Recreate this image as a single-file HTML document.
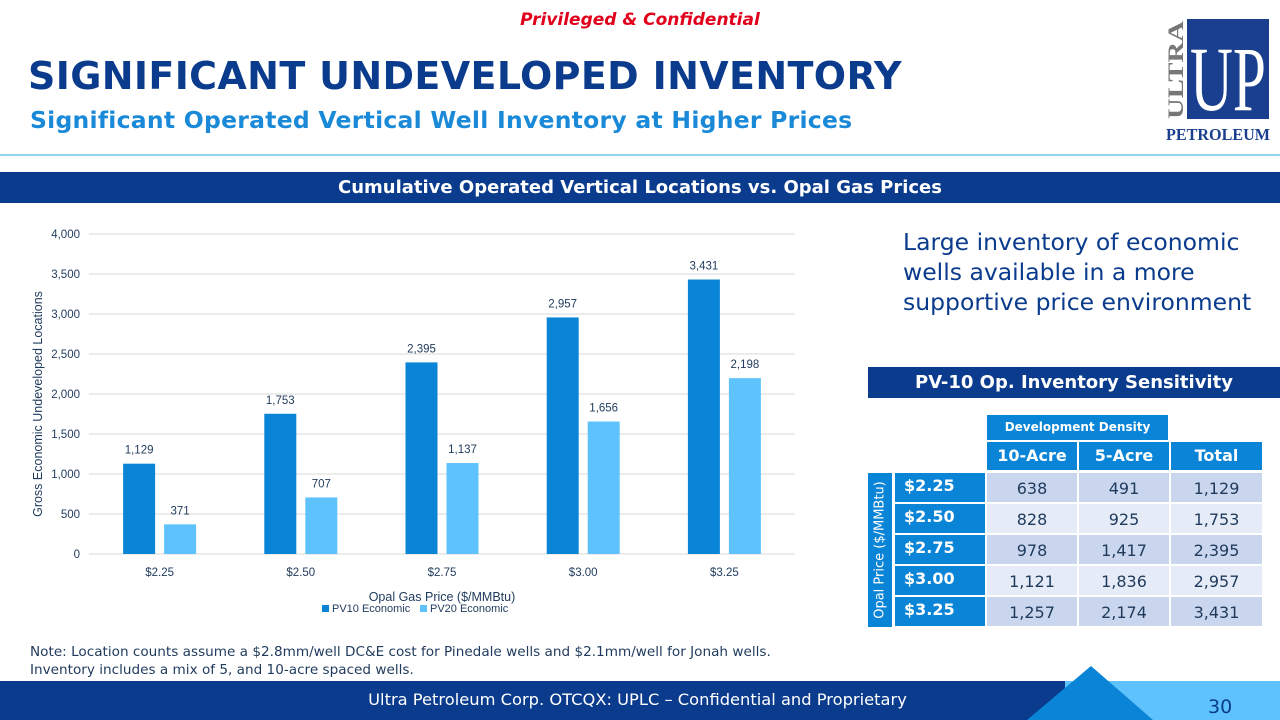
<!DOCTYPE html>
<html><head><meta charset="utf-8">
<style>
*{margin:0;padding:0;box-sizing:border-box}
body{width:1280px;height:720px;position:relative;overflow:hidden;background:#fff;font-family:"DejaVu Sans","Liberation Sans",sans-serif}
.abs{position:absolute}
</style></head><body>
<div class="abs" style="left:0;width:1280px;top:10px;text-align:center;color:#e0001b;font:italic bold 17px 'DejaVu Sans',sans-serif">Privileged &amp; Confidential</div>
<div class="abs" style="left:28px;top:54px;color:#0a3b8c;font:bold 38px 'DejaVu Sans',sans-serif;letter-spacing:0.35px">SIGNIFICANT UNDEVELOPED INVENTORY</div>
<div class="abs" style="left:30px;top:106px;color:#1a8ad8;font:bold 23.5px 'DejaVu Sans',sans-serif;letter-spacing:0.25px">Significant Operated Vertical Well Inventory at Higher Prices</div>
<div class="abs" style="left:0;top:154px;width:1280px;height:2px;background:#8fd6ec"></div>
<svg class="abs" style="left:1165px;top:15px" width="106" height="130">
<rect x="22" y="4" width="82" height="100" fill="#1a3f8f"/>
<text x="63" y="95" fill="#fff" font-family="Liberation Serif,serif" font-size="92" text-anchor="middle" textLength="76" lengthAdjust="spacingAndGlyphs">UP</text>
<text transform="translate(18,104) rotate(-90)" fill="#777" font-family="Liberation Serif,serif" font-weight="bold" font-size="22" textLength="98" lengthAdjust="spacingAndGlyphs">ULTRA</text>
<text x="53" y="125" fill="#1a3f8f" font-family="Liberation Serif,serif" font-weight="bold" font-size="17" text-anchor="middle" textLength="104" lengthAdjust="spacingAndGlyphs">PETROLEUM</text>
</svg>
<div class="abs" style="left:0;top:172px;width:1280px;height:31px;background:#0a3b8c;color:#fff;text-align:center;font:bold 18px/31px 'DejaVu Sans',sans-serif">Cumulative Operated Vertical Locations vs. Opal Gas Prices</div>

<svg class="abs" id="chart" style="left:0;top:210px" width="860" height="420"></svg>

<div class="abs" style="left:903px;top:227px;color:#0a3b8c;font:23.5px/30px 'DejaVu Sans',sans-serif;width:377px">Large inventory of economic wells available in a more supportive price environment</div>
<div class="abs" style="left:868px;top:367px;width:412px;height:31px;background:#0a3b8c;color:#fff;text-align:center;font:bold 18px/31px 'DejaVu Sans',sans-serif">PV-10 Op. Inventory Sensitivity</div>
<div class="abs" style="left:987px;top:415px;width:181px;height:25px;background:#0a84d6;color:#fff;text-align:center;font:bold 12px/25px 'DejaVu Sans',sans-serif">Development Density</div>
<div class="abs" style="left:868px;top:473px;width:24px;height:154px;background:#0a84d6"><div style="position:absolute;left:12px;top:77px;transform:translate(-50%,-50%) rotate(-90deg);white-space:nowrap;color:#fff;font:13px 'DejaVu Sans',sans-serif">Opal Price ($/MMBtu)</div></div>
<div id="tbl"></div>

<div class="abs" style="left:30px;top:643px;color:#1f3a5c;font:13.6px/18px 'DejaVu Sans',sans-serif">Note: Location counts assume a $2.8mm/well DC&amp;E cost for Pinedale wells and $2.1mm/well for Jonah wells.<br>Inventory includes a mix of 5, and 10-acre spaced wells.</div>
<svg class="abs" style="left:0;top:650px" width="1280" height="70">
<rect x="0" y="31" width="1280" height="39" fill="#0a3b8c"/>
<rect x="1065" y="31" width="215" height="39" fill="#5ec3fc"/>
<polygon points="1091,16 1153,70 1027,70" fill="#0a84d6"/>
</svg>
<div class="abs" style="left:0;width:1275px;top:682px;text-align:center;color:#fff;font:16.3px/36px 'DejaVu Sans',sans-serif">Ultra Petroleum Corp. OTCQX: UPLC – Confidential and Proprietary</div>
<div class="abs" style="left:1208px;top:696px;color:#0a3b8c;font:19px 'DejaVu Sans',sans-serif">30</div>

<script>
const categories=["$2.25","$2.50","$2.75","$3.00","$3.25"];
const pv10=[1129,1753,2395,2957,3431];
const pv20=[371,707,1137,1656,2198];
const yTicks=[0,500,1000,1500,2000,2500,3000,3500,4000];
const tenAcre=[638,828,978,1121,1257];
const fiveAcre=[491,925,1417,1836,2174];
const totals=[1129,1753,2395,2957,3431];
const NS="http://www.w3.org/2000/svg";
const svg=document.getElementById('chart');
const L=89,R=795,T=24,B=344,yMax=4000;
const y=v=>B-(v/yMax)*(B-T);
const band=(R-L)/categories.length;
const cx=i=>L+band*(i+0.5);
const fmt=v=>v.toLocaleString('en-US');
const FF='Liberation Sans,sans-serif';
function mk(tag,a,txt){const e=document.createElementNS(NS,tag);for(const k in a)e.setAttribute(k,a[k]);if(txt!=null)e.textContent=txt;svg.appendChild(e);return e;}
yTicks.forEach(t=>{
 const g=mk('line',{x1:L,x2:R,y1:y(t),y2:y(t),stroke:'#e6e6e6','stroke-width':1.5});
 
 
 const l=mk('text',{x:L-9,y:y(t)+4,'text-anchor':'end','font-size':11.5,fill:'#1f3a5c','font-family':FF},fmt(t));
 
 
});
const bw=32,gap=9;
categories.forEach((c,i)=>{
 const x1=cx(i)-gap/2-bw, x2=cx(i)+gap/2;
 const b1=mk('rect',{x:x1,y:y(pv10[i]),width:bw,height:B-y(pv10[i]),fill:'#0a84d6'});
 
 
 const b2=mk('rect',{x:x2,y:y(pv20[i]),width:bw,height:B-y(pv20[i]),fill:'#5ec3fc'});
 
 
 const v1=mk('text',{x:x1+bw/2,y:y(pv10[i])-10,'text-anchor':'middle','font-size':11.5,fill:'#1f3a5c','font-family':FF},fmt(pv10[i]));
 
 
 const v2=mk('text',{x:x2+bw/2,y:y(pv20[i])-10,'text-anchor':'middle','font-size':11.5,fill:'#1f3a5c','font-family':FF},fmt(pv20[i]));
 
 
 const xl=mk('text',{x:cx(i),y:B+22,'text-anchor':'middle','font-size':11.5,fill:'#1f3a5c','font-family':FF},c);
 
 
});
const xt=mk('text',{x:(L+R)/2,y:B+47,'text-anchor':'middle','font-size':12.5,fill:'#1f3a5c','font-family':FF},'Opal Gas Price ($/MMBtu)');


const yt=mk('text',{transform:`translate(42,${(T+B)/2+10}) rotate(-90)`,'text-anchor':'middle','font-size':12.5,fill:'#1f3a5c','font-family':FF},'Gross Economic Undeveloped Locations');


[['#0a84d6','PV10 Economic',322],['#5ec3fc','PV20 Economic',420]].forEach(([c,t,x])=>{
 const r=mk('rect',{x:x,y:B+51,width:7,height:7,fill:c});
 
 
 const tx=mk('text',{x:x+10,y:B+58,'font-size':11,fill:'#1f3a5c','font-family':FF},t);
 
 
});
const tbl=document.getElementById('tbl');
const cols=[987,1079,1171], widths=[90,90,91];
function cell(x,yy,w,h,bg,txt,style,name){const d=document.createElement('div');d.className='abs';d.style.cssText=`left:${x}px;top:${yy}px;width:${w}px;height:${h}px;background:${bg};${style}`;d.textContent=txt;tbl.appendChild(d);}
['10-Acre','5-Acre','Total'].forEach((h,j)=>cell(cols[j],442,widths[j],28,'#0a84d6',h,'color:#fff;text-align:center;font:bold 16px/28px "DejaVu Sans",sans-serif','column-header'));
categories.forEach((c,i)=>{
 const yy=473+i*31, bg=i%2==0?'#c9d6ee':'#e6ecf7';
 cell(895,yy,90,29,'#0a84d6',c,'color:#fff;padding-left:9px;font:bold 16px/26px "DejaVu Sans",sans-serif','row-header');
 [tenAcre[i],fiveAcre[i],totals[i]].forEach((v,j)=>cell(cols[j],yy,widths[j],29,bg,fmt(v),'color:#1f3a5c;text-align:center;font:16px/31px "DejaVu Sans",sans-serif','table-cell'));
});
</script>
</body></html>
